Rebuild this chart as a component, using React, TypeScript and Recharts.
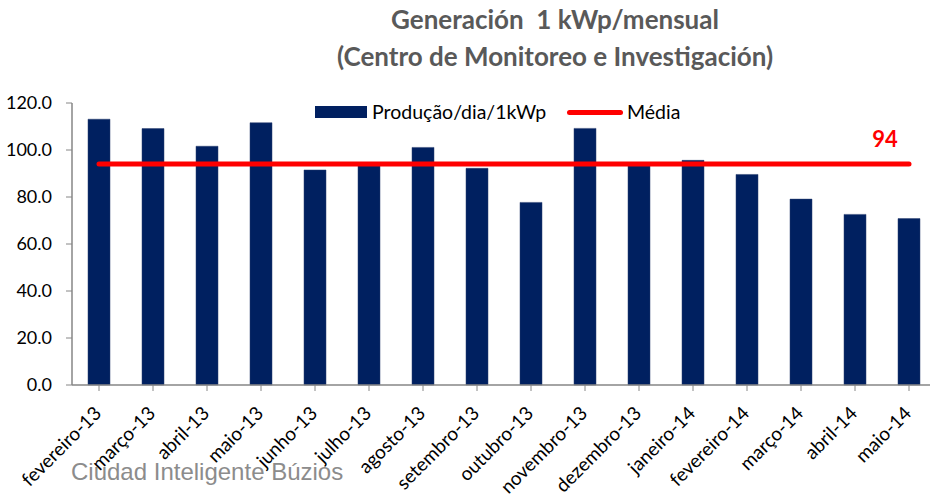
import React from 'react';
import { ComposedChart, Bar, Line, XAxis, YAxis, Legend } from 'recharts';

const months = [
  'fevereiro-13', 'março-13', 'abril-13', 'maio-13', 'junho-13', 'julho-13',
  'agosto-13', 'setembro-13', 'outubro-13', 'novembro-13', 'dezembro-13',
  'janeiro-14', 'fevereiro-14', 'março-14', 'abril-14', 'maio-14',
];
const producao = [
  113.1, 109.1, 101.6, 111.6, 91.5, 94.0, 101.1, 92.2, 77.7, 109.2, 94.0,
  95.6, 89.6, 79.1, 72.6, 70.8,
];
const mediaValue = 94;
const yTicks = [0, 20, 40, 60, 80, 100, 120];

const data = months.map((m, i) => ({ month: m, producao: producao[i], media: mediaValue }));

const FONT = 'Lato, "Noto Sans", sans-serif';

// only the last point of the mean line carries the "94" label
function MediaLabel(props: any) {
  const { x, y, index } = props;
  if (index !== months.length - 1) return null;
  return (
    <text x={x - 24} y={y - 17} textAnchor="middle" fontFamily={FONT} fontSize={22} fontWeight={700} fill="#FF0000">
      {mediaValue}
    </text>
  );
}

function LegendBox() {
  return (
    <div style={{ position: 'absolute', left: 0, top: 0, width: 930, height: 40, fontFamily: FONT, fontSize: 19.5, color: '#000' }}>
      <div style={{ position: 'absolute', left: 315, top: 106, width: 52, height: 12, background: '#002060' }} />
      <div style={{ position: 'absolute', left: 372, top: 99, lineHeight: '26px' }}>Produção/dia/1kWp</div>
      <div style={{ position: 'absolute', left: 567, top: 110, width: 56, height: 5, borderRadius: 3, background: '#FF0000' }} />
      <div style={{ position: 'absolute', left: 627, top: 99, lineHeight: '26px' }}>Média</div>
    </div>
  );
}

export default function App() {
  return (
    <div style={{ position: 'absolute', left: 0, top: 0, width: 930, height: 497, overflow: 'hidden', background: '#fff' }}>
      <div
        style={{
          position: 'absolute', left: 0, top: 1, width: 1110, textAlign: 'center',
          fontFamily: FONT, fontWeight: 700, fontSize: 26, color: '#595959', lineHeight: '37px',
        }}
      >
        <div style={{ whiteSpace: 'pre' }}>Generación  1 kWp/mensual</div>
        <div>(Centro de Monitoreo e Investigación)</div>
      </div>
      <ComposedChart
        width={944}
        height={497}
        data={data}
        margin={{ top: 103, right: 8, bottom: 0, left: 0 }}
        style={{ position: 'absolute', left: 0, top: 0 }}
      >
        <XAxis
          dataKey="month"
          interval={0}
          height={112}
          angle={-45}
          textAnchor="end"
          dx={-6}
          dy={12}
          tick={{ fill: '#000', fontSize: 19, fontFamily: FONT }}
          tickSize={6}
          stroke="#868686"
          axisLine={{ stroke: '#868686', strokeWidth: 1.5 }}
        />
        <YAxis
          domain={[0, 120]}
          ticks={yTicks}
          width={72}
          tickSize={6}
          tickMargin={14}
          tickFormatter={(v: number) => v.toFixed(1)}
          tick={{ fill: '#000', fontSize: 18, fontFamily: FONT }}
          stroke="#868686"
          axisLine={{ stroke: '#868686', strokeWidth: 1.5 }}
        />
        <Legend content={() => null} />
        <Bar dataKey="producao" name="Produção/dia/1kWp" fill="#002060" stroke="#2a3f6e" strokeWidth={0.5} barSize={22} isAnimationActive={false} />
        <Line
          dataKey="media"
          name="Média"
          stroke="#FF0000"
          strokeWidth={5}
          strokeLinecap="round"
          dot={false}
          activeDot={false}
          label={<MediaLabel />}
          isAnimationActive={false}
        />
      </ComposedChart>
      <LegendBox />
      <div
        style={{
          position: 'absolute', left: 71, top: 458, fontFamily: '"Liberation Sans", Arial, sans-serif',
          fontSize: 24, lineHeight: 1.15, color: '#8c8c8c', whiteSpace: 'nowrap',
        }}
      >
        Ciudad Inteligente Búzios
      </div>
    </div>
  );
}
